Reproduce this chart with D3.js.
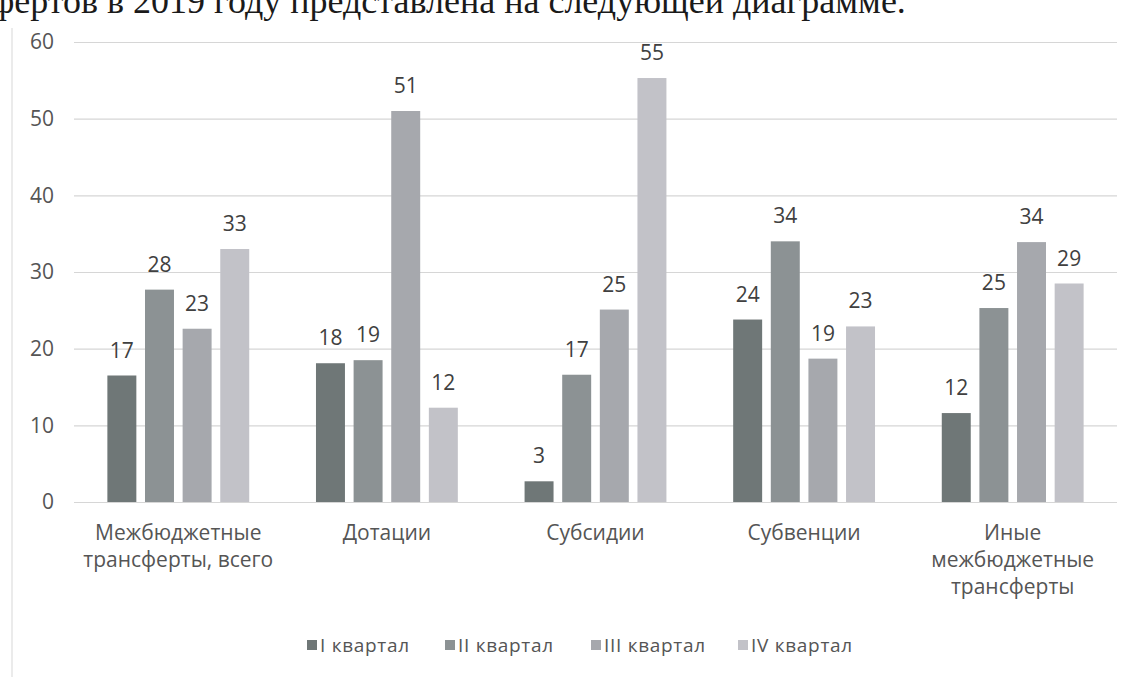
<!DOCTYPE html>
<html>
<head>
<meta charset="utf-8">
<script src="https://cdn.jsdelivr.net/npm/d3@7"></script>
<style>
  body { margin: 0; background: #fff; }
  svg { display: block; }
</style>
</head>
<body>
<svg id="chart"></svg>
<script>
// data
const categories = ["Межбюджетные трансферты, всего", "Дотации", "Субсидии", "Субвенции", "Иные межбюджетные трансферты"];
const categoryLines = [["Межбюджетные", "трансферты, всего"], ["Дотации"], ["Субсидии"], ["Субвенции"], ["Иные", "межбюджетные", "трансферты"]];
const seriesNames = ["I квартал", "II квартал", "III квартал", "IV квартал"];
const q1 = [16.5, 18.1, 2.7, 23.8, 11.6];
const q2 = [27.7, 18.5, 16.6, 34.0, 25.3];
const q3 = [22.6, 51.0, 25.1, 18.7, 33.9];
const q4 = [33.0, 12.3, 55.3, 22.9, 28.5];
const yTicks = [0, 10, 20, 30, 40, 50, 60];
const colors = ["#6f7777", "#8c9294", "#a6a8ad", "#c2c2c8"];

const width = 1138;
const height = 677;
const margin = { left: 74, right: 21, top: 42, bottom: 175 };
const font = 'Open Sans, sans-serif';

const svg = d3.select('svg#chart').attr('width', width).attr('height', height)

const series = [q1, q2, q3, q4]
const rows = categories.map((c, i) => ({ cat: c, vals: series.map((s, j) => ({ key: seriesNames[j], v: s[i] })) }))

// page text cut off at the top of the scan
svg.append('text')
    .attr('x', -9).attr('y', 13)
    .attr('font-family', 'Liberation Serif, serif')
    .attr('font-size', 36)
    .attr('fill', '#1a1a1a')
    .text('фертов в 2019 году представлена на следующей диаграмме.')

// faint chart frame edge
svg.append('line')
    .attr('x1', 12).attr('x2', 12).attr('y1', 28).attr('y2', height)
    .attr('stroke', '#e4e4e4').attr('stroke-width', 1.5)

const x0 = d3.scaleBand()
    .domain(categories)
    .range([margin.left, width - margin.right])
    .paddingInner(0.32)
    .paddingOuter(0.16)

const x1 = d3.scaleBand()
    .domain(seriesNames)
    .range([0, x0.bandwidth()])
    .paddingInner(0.23)

const y = d3.scaleLinear()
    .domain([0, 60])
    .range([height - margin.bottom, margin.top])

const color = d3.scaleOrdinal().domain(seriesNames).range(colors)

// grid + y labels
const yAxis = svg.append('g')
    .attr('transform', 'translate(' + margin.left + ',0)')
    .call(d3.axisLeft(y).tickValues(yTicks).tickSize(-(width - margin.left - margin.right)).tickPadding(20))
yAxis.select('.domain').remove()
yAxis.selectAll('.tick line').attr('stroke', '#d6d6d6').attr('stroke-width', 1.2)
yAxis.selectAll('.tick text')
    .attr('font-family', font)
    .attr('font-size', 21)
    .attr('fill', '#555')

// bars
const groups = svg.append('g').selectAll('g').data(rows).enter().append('g')
    .attr('transform', d => 'translate(' + x0(d.cat) + ',0)')

groups.selectAll('rect').data(d => d.vals).enter().append('rect')
    .attr('x', d => x1(d.key))
    .attr('width', x1.bandwidth())
    .attr('y', d => y(d.v))
    .attr('height', d => y(0) - y(d.v))
    .attr('fill', d => color(d.key))

groups.selectAll('text').data(d => d.vals).enter().append('text')
    .attr('x', d => x1(d.key) + x1.bandwidth() / 2)
    .attr('y', d => y(d.v) - 18)
    .attr('text-anchor', 'middle')
    .attr('font-family', font)
    .attr('font-size', 21)
    .attr('fill', '#404040')
    .text(d => Math.round(d.v))

// category labels
const xlab = svg.append('g').selectAll('text').data(categories).enter().append('text')
    .attr('x', d => x0(d) + x0.bandwidth() / 2)
    .attr('y', 540)
    .attr('text-anchor', 'middle')
    .attr('font-family', font)
    .attr('font-size', 21)
    .attr('fill', '#555')
xlab.each(function (d, i) {
    d3.select(this).selectAll('tspan').data(categoryLines[i]).enter().append('tspan')
        .attr('x', x0(d) + x0.bandwidth() / 2)
        .attr('dy', (l, k) => k === 0 ? 0 : 27)
        .text(l => l)
})

// legend
const legendX = [307, 445, 591, 738]
const legend = svg.append('g').selectAll('g').data(seriesNames).enter().append('g')
    .attr('transform', (d, i) => 'translate(' + legendX[i] + ',652)')
legend.append('rect')
    .attr('x', 0).attr('y', -12).attr('width', 10).attr('height', 10)
    .attr('fill', d => color(d))
legend.append('text')
    .attr('x', 13).attr('y', 0)
    .attr('font-family', font)
    .attr('font-size', 19)
    .attr('letter-spacing', 0.7)
    .attr('fill', '#555')
    .text(d => d)
</script>
</body>
</html>
